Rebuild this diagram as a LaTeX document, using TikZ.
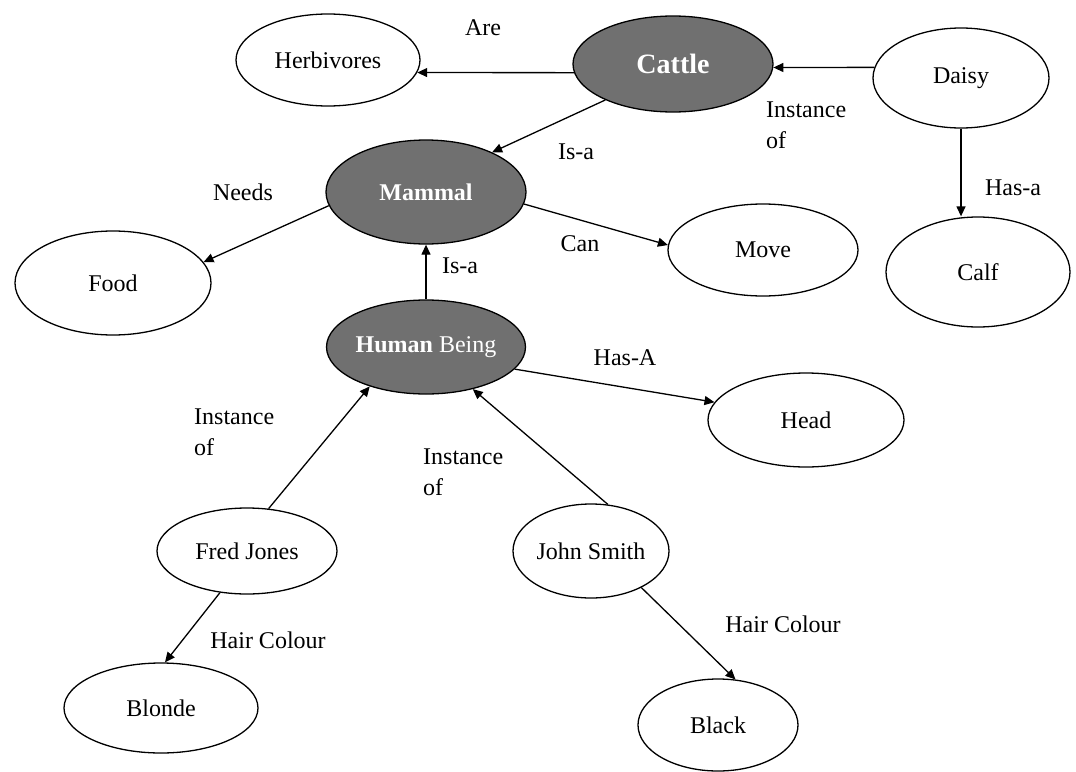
\documentclass[tikz,border=0pt]{standalone}
\usepackage{fontspec}
\setmainfont{Liberation Serif}
\usepackage{tikz}
\usetikzlibrary{shapes,arrows,arrows.meta,positioning}
\definecolor{classgray}{HTML}{707070}

\begin{document}
\begin{tikzpicture}[
    x=1pt, y=-1pt,
    concept/.style={ellipse, draw=black, line width=1.3pt, fill=white, inner sep=0pt,
        font=\fontsize{24}{28}\selectfont},
    class/.style={concept, fill=classgray, text=white},
    rel/.style={font=\fontsize{24}{31}\selectfont, align=left, inner sep=0pt},
    arrow/.style={-{Triangle[length=10pt,width=9pt]}, line width=1.3pt},
]
    \useasboundingbox (0,0) rectangle (1076,771);

    % Classes
    \node[class, minimum width=200pt, minimum height=96pt] (cattle) at (673,64) {\fontsize{28}{32}\selectfont\bfseries Cattle};
    \node[class, minimum width=200pt, minimum height=104pt] (mammal) at (426,192) {\bfseries Mammal};
    \node[class, minimum width=194pt, minimum height=94pt] (human) at (426,347) {\textbf{Human} Being};

    % Concepts
    \node[concept, minimum width=184pt, minimum height=92pt] (herb) at (328,60) {Herbivores};
    \node[concept, minimum width=176pt, minimum height=100pt] (daisy) at (961,78) {Daisy};
    \node[concept, minimum width=184pt, minimum height=110pt] (calf) at (978,272) {Calf};
    \node[concept, minimum width=196pt, minimum height=104pt] (food) at (113,283) {Food};
    \node[concept, minimum width=190pt, minimum height=92pt] (move) at (763,250) {Move};
    \node[concept, minimum width=196pt, minimum height=94pt] (head) at (806,420) {Head};
    \node[concept, minimum width=180pt, minimum height=86pt] (fred) at (247,551) {Fred Jones};
    \node[concept, minimum width=156pt, minimum height=94pt] (john) at (591,551) {John Smith};
    \node[concept, minimum width=194pt, minimum height=90pt] (blonde) at (161,708) {Blonde};
    \node[concept, minimum width=160pt, minimum height=92pt] (black) at (718,725) {Black};

    % Relations
    \draw[arrow] (cattle.185) -- (herb.352);
    \draw[arrow] (daisy.173) -- (cattle.358);
    \draw[arrow] (cattle.208) -- (mammal.31);
    \draw[arrow] (daisy.south) -- (daisy.south |- calf.north);
    \draw[arrow] (mammal.188) -- (food.13);
    \draw[arrow] (mammal.353) -- (move.177);
    \draw[arrow] (human.north) -- (mammal.south);
    \draw[arrow] (human.346) -- (head.169);
    \draw[arrow] (fred.63) -- (human.215);
    \draw[arrow] (john.70) -- (human.318);
    \draw[arrow] (fred.237) -- (blonde.85);
    \draw[arrow] (john.324) -- (black.69);

    % Labels
    \node[rel] (lare) at (483,28) {Are};
    \node[rel, anchor=west] (linst1) at (766,125) {Instance\\of};
    \node[rel] (lisa1) at (576,152) {Is-a};
    \node[rel] (lneeds) at (243,192) {Needs};
    \node[rel] (lcan) at (580,244) {Can};
    \node[rel] (lhasa) at (1013,188) {Has-a};
    \node[rel] (lisa2) at (460,266) {Is-a};
    \node[rel] (lhasA) at (625,358) {Has-A};
    \node[rel, anchor=west] (linst2) at (194,432) {Instance\\of};
    \node[rel, anchor=west] (linst3) at (423,472) {Instance\\of};
    \node[rel] (lhair1) at (268,640) {Hair Colour};
    \node[rel] (lhair2) at (783,624) {Hair Colour};
\end{tikzpicture}
\end{document}
